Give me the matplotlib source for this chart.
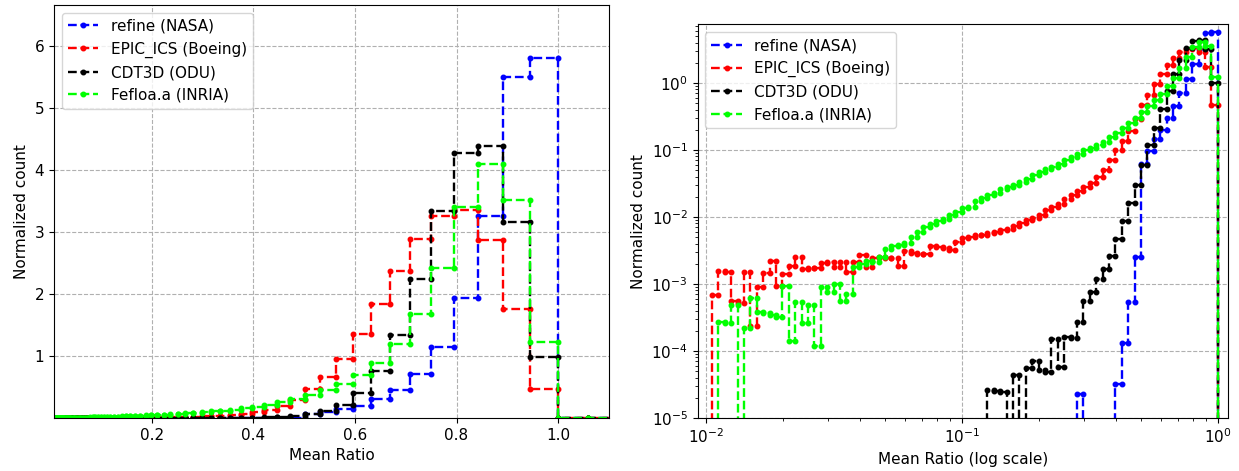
import numpy as np
import matplotlib
matplotlib.use("Agg")
import matplotlib.pyplot as plt

plt.rcParams["font.size"] = 11

# log spaced bins, 40 per decade from 0.01, two empty bins past 1.0
bin_edges = np.logspace(-2, 0.05, 83)

labels = ["refine (NASA)", "EPIC_ICS (Boeing)", "CDT3D (ODU)", "Fefloa.a (INRIA)"]
colors = ["b", "r", "k", "#00ff00"]

refine = [0]*58 + [2.3e-5, 0, 0, 0, 0, 0, 3.2e-5, 1.33e-4, 5.3e-4, 2.5e-3,
          0.061, 0.096, 0.147, 0.20, 0.30, 0.457, 0.704, 1.145, 1.935, 3.26,
          5.5, 5.8, 0, 0]

epic = [0, 6.8e-4, 1.56e-3, 1.51e-3, 5.57e-4, 5.26e-4, 1.51e-3, 2.36e-4, 9.1e-4, 1.48e-3,
        2.2e-3, 9.3e-4, 1.43e-3, 1.86e-3, 2.53e-3, 1.66e-3, 1.71e-3, 1.72e-3, 2.04e-3, 2.16e-3,
        1.82e-3, 2.11e-3, 1.53e-3, 2.11e-3, 2.71e-3, 1.82e-3, 2.45e-3, 2.5e-3, 2.42e-3, 2.42e-3,
        1.88e-3, 3.15e-3, 2.9e-3, 2.8e-3, 2.85e-3, 3.7e-3, 3.59e-3, 3.39e-3, 3.2e-3, 4.16e-3,
        4.93e-3, 5.05e-3, 5.41e-3, 5.35e-3, 5.79e-3, 5.93e-3, 6.35e-3, 6.72e-3, 7.36e-3, 8.07e-3,
        9.04e-3, 9.8e-3, 1.07e-2, 1.26e-2, 1.43e-2, 1.55e-2, 1.84e-2, 2.1e-2, 2.42e-2, 2.77e-2,
        3.25e-2, 3.99e-2, 4.96e-2, 0.072, 0.10, 0.135, 0.19, 0.29, 0.462, 0.661,
        0.957, 1.36, 1.844, 2.37, 2.88, 3.25, 3.36, 2.87, 1.753, 0.473,
        0, 0]

cdt3d = [0]*44 + [2.64e-5, 2.55e-5, 2.44e-5, 0, 4.31e-5, 0,
                  5.61e-5, 7.05e-5, 5.12e-5, 4.84e-5, 1.52e-4, 5.74e-5, 1.6e-4, 1.55e-4, 2.68e-4, 5.64e-4,
                  7.7e-4, 1.2e-3, 1.67e-3, 2.58e-3, 4.68e-3, 8.75e-3, 1.6e-2, 2.97e-2, 5.96e-2, 0.117,
                  0.21, 0.403, 0.763, 1.339, 2.237, 3.33, 4.28, 4.39, 3.167, 0.989,
                  0, 0]

fefloa = [0, 0, 2.7e-4, 2.65e-4, 4.9e-4, 0, 2.18e-4, 6.1e-4, 3.82e-4, 3.65e-4,
          3.44e-4, 3.2e-4, 9.3e-4, 1.41e-4, 5.45e-4, 2.59e-4, 4.9e-4, 1.17e-4, 8.95e-4, 7.55e-4,
          1.0e-3, 5.55e-4, 6.97e-4, 1.82e-3, 2.0e-3, 2.19e-3, 2.16e-3, 2.5e-3, 3.34e-3, 3.69e-3,
          3.86e-3, 4.04e-3, 5.08e-3, 5.9e-3, 7.0e-3, 7.8e-3, 8.75e-3, 9.25e-3, 1.07e-2, 1.19e-2,
          1.35e-2, 1.41e-2, 1.73e-2, 1.94e-2, 2.1e-2, 2.3e-2, 2.59e-2, 2.8e-2, 3.03e-2, 3.36e-2,
          3.73e-2, 4.22e-2, 4.63e-2, 5.13e-2, 5.62e-2, 6.23e-2, 6.99e-2, 7.8e-2, 8.8e-2, 9.85e-2,
          0.108, 0.118, 0.133, 0.158, 0.18, 0.212, 0.256, 0.30, 0.366, 0.457,
          0.554, 0.694, 0.887, 1.199, 1.672, 2.42, 3.40, 4.10, 3.51, 1.226,
          0, 0]

series = [refine, epic, cdt3d, fefloa]


def step_xy(edges, vals):
    # corner points of each bin so a marker sits at both ends of a step
    x = np.repeat(edges, 2)[1:-1]
    y = np.repeat(np.asarray(vals, dtype=float), 2)
    return x, y


fig = plt.figure(figsize=(12.39, 4.71), dpi=100)
ax1 = fig.add_axes([0.0436, 0.1125, 0.4479, 0.877])
ax2 = fig.add_axes([0.563, 0.1125, 0.428, 0.8355])

for vals, lab, col in zip(series, labels, colors):
    x, y = step_xy(bin_edges, vals)
    ax1.plot(x, y, "--", marker=".", color=col, label=lab, lw=1.7, ms=6.5)
    ax2.plot(x, y, "--", marker=".", color=col, label=lab, lw=1.7, ms=6.5)

ax1.set_xlim(0.008, 1.1)
ax1.set_ylim(1e-5, 6.66)
ax1.set_xlabel("Mean Ratio")
ax1.set_ylabel("Normalized count")
ax1.grid(True, linestyle="--", color="#b0b0b0")
ax1.legend(loc="upper left")

ax2.set_xscale("log")
ax2.set_yscale("log")
ax2.set_xlim(0.0093, 1.094)
ax2.set_ylim(1e-5, 7.45)
ax2.set_xlabel("Mean Ratio (log scale)")
ax2.set_ylabel("Normalized count")
ax2.grid(True, linestyle="--", color="#b0b0b0")
ax2.legend(loc="upper left")

fig.savefig("out.png", dpi=100)
